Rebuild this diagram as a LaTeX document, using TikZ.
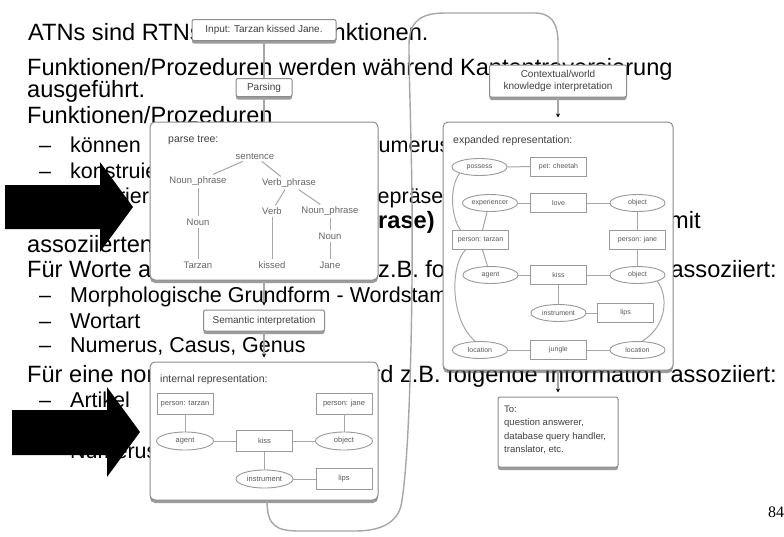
\documentclass[tikz,border=0pt]{standalone}
\usepackage{fontspec}
\setmainfont{Liberation Sans}
\newfontfamily\seriffont{Liberation Serif}
\usetikzlibrary{shapes.geometric,shadows,arrows.meta}
\tikzset{
 big/.style={anchor=base west, inner sep=0pt, font=\fontsize{23.6}{28}\selectfont},
 sub/.style={anchor=base west, inner sep=0pt, font=\fontsize{21.5}{25}\selectfont},
 shad/.style={drop shadow={shadow xshift=0pt, shadow yshift=-3pt, fill=black!70, opacity=0.55}},
 panel/.style={shad, draw=black!45, line width=1pt, fill=white, rounded corners=5pt},
 stepbox/.style={shad, draw=black!45, line width=1pt, fill=white, rounded corners=2pt, align=center, font=\fontsize{10}{12}\selectfont, text=black!75, inner sep=1pt},
 plabel/.style={anchor=base west, inner sep=0pt, font=\fontsize{10.5}{12}\selectfont, text=black!75},
 tolabel/.style={anchor=base west, inner sep=0pt, font=\fontsize{9.5}{12}\selectfont, text=black!75},
 tnode/.style={font=\fontsize{9.5}{11}\selectfont, text=black!60, inner sep=2pt},
 rbox/.style={draw=black!40, line width=.9pt, minimum width=56pt, minimum height=21pt, font=\fontsize{7.5}{9}\selectfont, text=black!65, inner sep=1pt},
 ebox/.style={ellipse, draw=black!40, line width=.9pt, minimum width=57pt, minimum height=18pt, font=\fontsize{7.5}{9}\selectfont, text=black!65, inner sep=0pt},
 rboxs/.style={rbox, minimum height=19pt, font=\fontsize{7}{8}\selectfont},
 eboxs/.style={ebox, minimum width=55pt, minimum height=17pt, font=\fontsize{7}{8}\selectfont},
 link/.style={draw=black!35, line width=1pt},
 conn/.style={draw=black!35, line width=1.4pt},
 tipd/.style={-{Stealth[length=4pt,width=4pt,black]}, shorten >=4pt},
}
\begin{document}
\begin{tikzpicture}[x=1pt,y=-1pt]
\fill[white] (0,0) rectangle (784,536);
\useasboundingbox (0,0) rectangle (784,536);

% ---------- slide text ----------
\node[big] (a1) at (28,40) {ATNs sind RTNs mit};
\node[big] (a1b) at (305,40) {Funktionen.};
\node[big] (a2) at (27,75) {Funktionen/Prozeduren werden während Kantentraversierung};
\node[big] (a3) at (27,97) {ausgeführt.};
\node[big] (a4) at (27,123) {Funktionen/Prozeduren};
\node[sub] (b1d) at (39,152) {–};
\node[sub] (b1) at (70,152) {können};
\node[sub] (b1b) at (363,152) {Numerus};
\node[sub] (b2d) at (39,178) {–};
\node[sub] (b2) at (70,178) {konstruieren};
\node[sub] (b3d) at (39,203) {–};
\node[sub] (b3) at (70,203) {generieren};
\node[sub] (b3b) at (362,203) {Repräsentationen};
\node[big] (a5) at (27,228) {Den NTs};
\node[big, font=\fontsize{23.6}{28}\selectfont\bfseries] (a5b) at (340,228) {(Phrase)};
\node[big] (a5c) at (669,228) {mit};
\node[big] (a6) at (27,252) {assoziierten};
\node[big] (a7) at (27,277) {Für Worte allein};
\node[big] (a7b) at (378,277) {z.B. folgende Informationen};
\node[big, anchor=base east] (a7c) at (777,277) {assoziiert:};
\node[sub] (c1d) at (39,302) {–};
\node[sub] (c1) at (70,302) {Morphologische Grundform - Wordstamm};
\node[sub] (c2d) at (39,328) {–};
\node[sub] (c2) at (70,328) {Wortart};
\node[sub] (c3d) at (39,352) {–};
\node[sub] (c3) at (70,352) {Numerus, Casus, Genus};
\node[big] (a8) at (27,382) {Für eine nominale};
\node[big] (a8b) at (350,382) {wird z.B. folgende Information};
\node[big, anchor=base east] (a8c) at (777,382) {assoziiert:};
\node[sub] (d1d) at (39,407) {–};
\node[sub] (d1) at (70,407) {Artikel};
\node[sub] (d3d) at (39,458) {–};
\node[sub] (d3) at (70,458) {Numerus};
\node[anchor=base west, inner sep=0pt, font=\seriffont\fontsize{16}{18}\selectfont] (pg) at (768,517) {84};

% ---------- black block arrows ----------
\fill[black] (5,185) -- (100,185) -- (100,162) -- (133,207) -- (100,252) -- (100,229) -- (5,229) -- cycle;
\fill[black] (12,410) -- (107,410) -- (107,387) -- (140,432) -- (107,477) -- (107,455) -- (12,455) -- cycle;

% ---------- diagram: left chain ----------
\node[stepbox, minimum width=144pt, minimum height=21pt] (inp) at (264,30) {Input: Tarzan kissed Jane.};
\node[stepbox, minimum width=56pt, minimum height=18pt] (pars) at (264,87.5) {Parsing};
\node[panel, minimum width=228pt, minimum height=158pt] (ptree) at (264,201) {};
\node[stepbox, minimum width=121pt, minimum height=21pt] (sem) at (264,320.5) {Semantic interpretation};
\node[panel, minimum width=228pt, minimum height=138pt] (intr) at (264,431) {};

\draw[conn] (inp) -- (pars);
\draw[conn] (pars) -- (ptree);
\draw[conn, tipd] (ptree) -- (sem);
\draw[conn, tipd] (sem) -- (intr);

% parse tree
\node[plabel] (ptl) at (168,142) {parse tree:};
\node[tnode] (s) at (255,156) {sentence};
\node[tnode] (np1) at (198,181) {Noun\_phrase};
\node[tnode] (vp) at (289,183) {Verb\_phrase};
\node[tnode] (v) at (272,211) {Verb};
\node[tnode] (np2) at (330,211) {Noun\_phrase};
\node[tnode] (n1) at (198,222) {Noun};
\node[tnode] (n2) at (330,236) {Noun};
\node[tnode] (w1) at (198,265) {Tarzan};
\node[tnode] (w2) at (272,265) {kissed};
\node[tnode] (w3) at (330,265) {Jane};
\draw[link] (s) -- (np1);
\draw[link] (s) -- (vp);
\draw[link] (np1) -- (n1);
\draw[link] (n1) -- (w1);
\draw[link] (vp) -- (v);
\draw[link] (vp) -- (np2);
\draw[link] (v) -- (w2);
\draw[link] (np2) -- (n2);
\draw[link] (n2) -- (w3);

% internal representation
\node[plabel] (irl) at (160,382) {internal representation:};
\node[rbox] (ipt) at (185,403.5) {person: tarzan};
\node[rbox] (ipj) at (344,403.5) {person: jane};
\node[ebox] (iag) at (185,441) {agent};
\node[rbox] (iki) at (264.5,441) {kiss};
\node[ebox] (iob) at (344,441) {object};
\node[ebox] (iin) at (264.5,479) {instrument};
\node[rbox] (ili) at (344,479) {lips};
\draw[link] (ipt) -- (iag);
\draw[link] (iag) -- (iki);
\draw[link] (iki) -- (iob);
\draw[link] (ipj) -- (iob);
\draw[link] (iki) -- (iin);
\draw[link] (iin) -- (ili);

% ---------- right chain ----------
\node[stepbox, minimum width=137pt, minimum height=32pt] (ctx) at (558,81) {Contextual/world\\knowledge interpretation};
\node[panel, minimum width=230pt, minimum height=248pt] (expd) at (558,246) {};
\node[stepbox, minimum width=120pt, minimum height=70pt] (to) at (558,432) {};
\node[tolabel] (to1) at (504,412) {To:};
\node[tolabel] (to2) at (504,425.5) {question answerer,};
\node[tolabel] (to3) at (504,439) {database query handler,};
\node[tolabel] (to4) at (504,452.5) {translator, etc.};

\draw[conn, tipd] (ctx) -- (expd);
\draw[conn, tipd] (expd) -- (to);

% long connector from internal representation to contextual interpretation
\draw[conn] ([xshift=3pt]intr.south) .. controls (267,526) and (276,531) .. (300,531)
  -- (355,531) .. controls (385,531) and (400,520) .. (402,500)
  .. controls (410,450) and (413,300) .. (412,200)
  .. controls (411,120) and (409,80) .. (409,45)
  .. controls (409,22) and (420,13) .. (445,13) -- (535,13)
  .. controls (550,13) and (558,22) .. (558,42) -- (ctx.north);

% expanded representation
\node[plabel] (erl) at (453,143) {expanded representation:};
\node[eboxs] (epo) at (479.5,167) {possess};
\node[rboxs] (epc) at (558.5,166.5) {pet: cheetah};
\node[eboxs] (eex) at (490,203) {experiencer};
\node[rboxs] (elo) at (558.5,203) {love};
\node[eboxs] (eo1) at (637.5,203) {object};
\node[rboxs] (ept) at (480.5,240) {person: tarzan};
\node[rboxs] (epj) at (637.5,240) {person: jane};
\node[eboxs] (eag) at (490.5,275) {agent};
\node[rboxs] (eki) at (558.5,275) {kiss};
\node[eboxs] (eo2) at (637.5,275) {object};
\node[eboxs] (ein) at (558.5,313) {instrument};
\node[rboxs] (eli) at (625.5,313) {lips};
\node[eboxs] (el1) at (480,350) {location};
\node[rboxs] (eju) at (558.5,350) {jungle};
\node[eboxs] (el2) at (637.5,350) {location};
\draw[link] (epo) -- (epc);
\draw[link] (eex) -- (elo);
\draw[link] (elo) -- (eo1);
\draw[link] (eo1) -- (epj);
\draw[link] ([xshift=-3pt]eex.south) -- ([xshift=2pt]ept.north);
\draw[link] ([xshift=2pt]ept.south) -- ([xshift=-3pt]eag.north);
\draw[link] (epo.south west) .. controls (450,185) and (450,215) .. ([xshift=-20pt]ept.north);
\draw[link] ([xshift=-15pt]ept.south) .. controls (450,265) and (450,320) .. ([xshift=-5pt]el1.north);
\draw[link] (eo2.south east) .. controls (668,295) and (668,325) .. ([xshift=5pt]el2.north);
\draw[link] (eag) -- (eki);
\draw[link] (eki) -- (eo2);
\draw[link] (epj) -- (eo2);
\draw[link] (eki) -- (ein);
\draw[link] (ein) -- (eli);
\draw[link] (el1) -- (eju);
\draw[link] (eju) -- (el2);
\end{tikzpicture}
\end{document}
